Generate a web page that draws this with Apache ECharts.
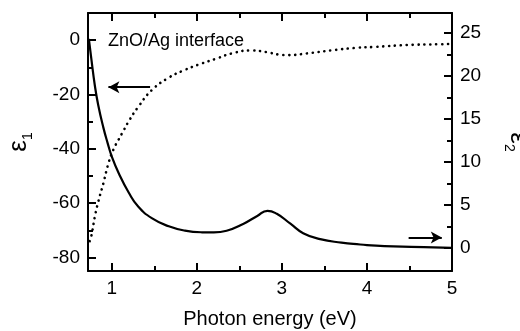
<!DOCTYPE html>
<html>
<head>
<meta charset="utf-8">
<script src="https://cdn.jsdelivr.net/npm/echarts@6/dist/echarts.min.js"></script>
<style>
  html, body { margin: 0; padding: 0; background: #fff; }
  #chart { width: 520px; height: 331px; }
</style>
</head>
<body>
<div id="chart"></div>
<script>
// Real part of the dielectric function (left axis, dotted)
const energyE1 = [0.74, 0.76, 0.80, 0.84, 0.90, 0.96, 1.02, 1.08, 1.14, 1.20, 1.31, 1.47, 1.67, 1.84, 2.02, 2.22, 2.41, 2.63, 2.82, 2.96, 3.08, 3.29, 3.60, 3.88, 4.08, 4.47, 4.86, 5.0];
const eps1 = [-74.0, -72.0, -65.1, -59.6, -52.8, -45.4, -40.2, -36.6, -33.2, -29.8, -24.6, -18.4, -13.8, -11.2, -9.0, -6.9, -4.9, -3.8, -4.4, -5.3, -5.5, -4.9, -3.7, -2.8, -2.5, -1.8, -1.5, -1.4];

// Imaginary part of the dielectric function (right axis, solid)
const energyE2 = [0.73, 0.76, 0.80, 0.84, 0.90, 0.95, 1.00, 1.08, 1.20, 1.31, 1.47, 1.67, 1.86, 2.06, 2.20, 2.35, 2.55, 2.71, 2.83, 2.94, 3.10, 3.25, 3.45, 3.70, 3.92, 4.00, 4.31, 4.67, 5.0];
const eps2 = [24.3, 21.9, 18.9, 16.6, 14.0, 12.2, 10.6, 8.7, 6.4, 4.8, 3.45, 2.5, 2.0, 1.8, 1.78, 1.98, 2.8, 3.7, 4.3, 3.95, 2.8, 1.7, 1.0, 0.6, 0.38, 0.32, 0.16, 0.08, 0.0];

// Tick positions
const xTicks = [1, 2, 3, 4, 5];
const xMinorTicks = [1.5, 2.5, 3.5, 4.5];
const e1Ticks = [0, -20, -40, -60, -80];
const e1MinorTicks = [-10, -30, -50, -70];
const e2Ticks = [0, 5, 10, 15, 20, 25];
const e2MinorTicks = [2.5, 7.5, 12.5, 17.5, 22.5];

// Arrow annotations pointing to each curve's axis
const arrowE1 = [[1.45, -17.3], [0.96, -17.3]];
const arrowE2 = [[4.49, 1.2], [4.88, 1.2]];

const FONT = 'Liberation Sans, Arial, Helvetica, sans-serif';
const X_RANGE = [0.72, 5];
const E1_RANGE = [-85, 10];
const E2_RANGE = [-2.7, 27.3];

function tickAxis(position, range, ticks, len, showLine) {
  return {
    type: 'value', position: position, min: range[0], max: range[1],
    axisLine: { show: showLine, onZero: false, lineStyle: { color: '#000', width: 2 } },
    axisTick: { show: true, inside: true, length: len, customValues: ticks, lineStyle: { color: '#000', width: 2 } },
    axisLabel: { show: false },
    splitLine: { show: false }
  };
}

function labelAxis(position, range, ticks) {
  const a = tickAxis(position, range, ticks, 8, true);
  a.axisLabel = { show: true, customValues: ticks, color: '#000', fontSize: 19, fontFamily: FONT, margin: 8 };
  return a;
}

const nameRich = {
  e: { fontSize: 26, fontFamily: FONT, color: '#000', lineHeight: 30, verticalAlign: 'bottom' },
  s: { fontSize: 14, fontFamily: FONT, color: '#000', lineHeight: 30, verticalAlign: 'bottom', padding: [0, 0, -3, 0] }
};

const xMain = labelAxis('bottom', X_RANGE, xTicks);
xMain.name = 'Photon energy (eV)';
xMain.nameLocation = 'middle';
xMain.nameGap = 38;
xMain.nameTextStyle = { color: '#000', fontSize: 20, fontFamily: FONT };

const yLeft = labelAxis('left', E1_RANGE, e1Ticks);
yLeft.name = '{e|ε}{s|1}';
yLeft.nameLocation = 'middle';
yLeft.nameRotate = 90;
yLeft.nameGap = 56;
yLeft.nameTextStyle = { color: '#000', fontFamily: FONT, rich: nameRich };

const yRight = labelAxis('right', E2_RANGE, e2Ticks);
yRight.name = '{e|ε}{s|2}';
yRight.nameLocation = 'middle';
yRight.nameRotate = -90;
yRight.nameGap = 53;
yRight.nameTextStyle = { color: '#000', fontFamily: FONT, rich: nameRich };

function toPairs(xs, ys) { return xs.map((x, i) => [x, ys[i]]); }

const option = {
  backgroundColor: '#fff',
  animation: false,
  title: {
    text: 'ZnO/Ag interface', left: 103, top: 27,
    textStyle: { color: '#000', fontSize: 18, fontWeight: 'normal', fontFamily: FONT }
  },
  grid: { left: 88, right: 68, top: 13, bottom: 60, containLabel: false, outerBoundsMode: 'none' },
  xAxis: [
    xMain,
    tickAxis('bottom', X_RANGE, xMinorTicks, 5, false),
    tickAxis('top', X_RANGE, xTicks, 8, true),
    tickAxis('top', X_RANGE, xMinorTicks, 5, false)
  ],
  yAxis: [
    yLeft,
    tickAxis('left', E1_RANGE, e1MinorTicks, 5, false),
    yRight,
    tickAxis('right', E2_RANGE, e2MinorTicks, 5, false)
  ],
  series: [
    {
      name: 'ε1', type: 'line', xAxisIndex: 0, yAxisIndex: 0,
      data: toPairs(energyE1, eps1), smooth: 0.5, showSymbol: false, symbol: 'none',
      lineStyle: { color: '#000', width: 2.6, type: [0.1, 5.8], cap: 'round' },
      markLine: {
        silent: true, symbol: ['none', 'arrow'], symbolSize: [9, 11],
        label: { show: false },
        lineStyle: { color: '#000', width: 2, type: 'solid' },
        data: [[{ coord: arrowE1[0] }, { coord: arrowE1[1] }]]
      }
    },
    {
      name: 'ε2', type: 'line', xAxisIndex: 0, yAxisIndex: 2,
      data: toPairs(energyE2, eps2), smooth: 0.5, showSymbol: false, symbol: 'none',
      lineStyle: { color: '#000', width: 2.2 },
      markLine: {
        silent: true, symbol: ['none', 'arrow'], symbolSize: [9, 11],
        label: { show: false },
        lineStyle: { color: '#000', width: 2, type: 'solid' },
        data: [[{ coord: arrowE2[0] }, { coord: arrowE2[1] }]]
      }
    }
  ]
};

const chart = echarts.init(document.getElementById('chart'), null, { renderer: 'canvas' });
chart.setOption(option);
</script>
</body>
</html>
